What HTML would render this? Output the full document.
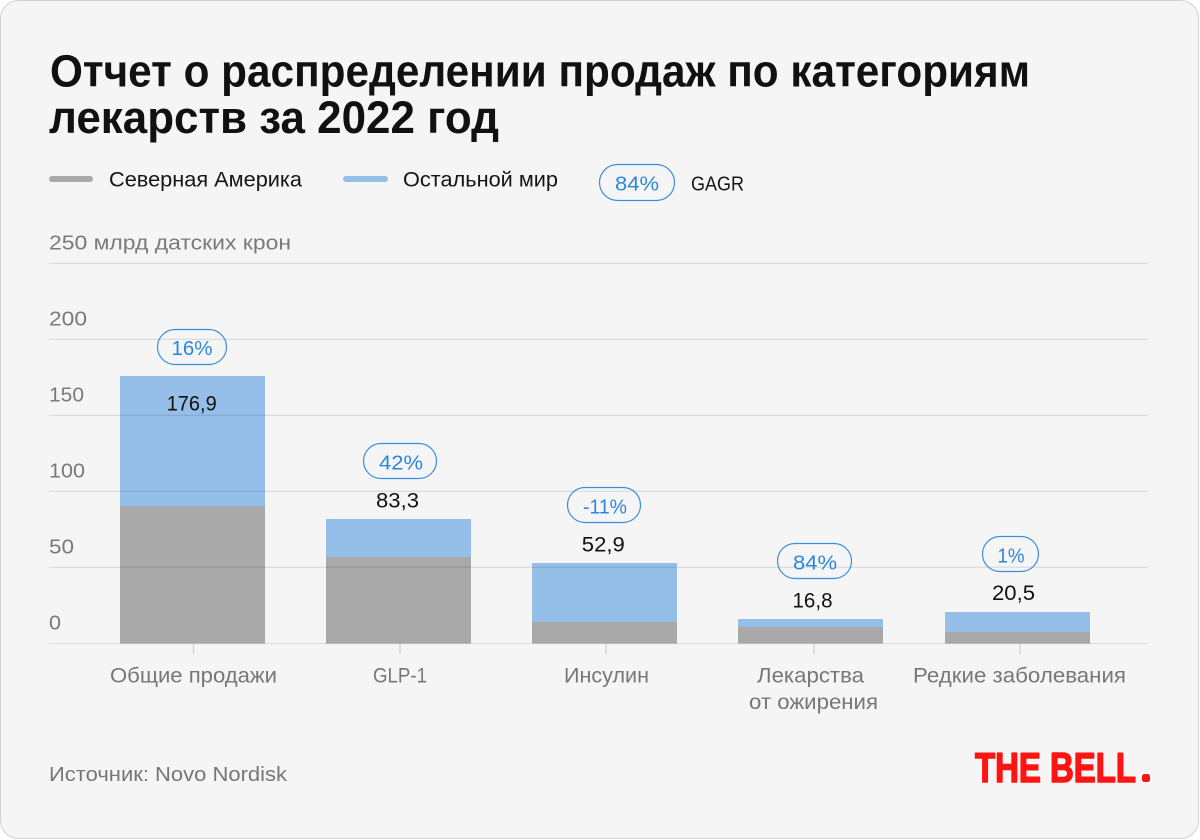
<!DOCTYPE html>
<html>
<head>
<meta charset="utf-8">
<style>
  html,body{margin:0;padding:0;background:#ffffff;}
  svg{display:block;}
  text{font-family:"Liberation Sans","DejaVu Sans",sans-serif;}
</style>
</head>
<body>
<svg width="1200" height="840" viewBox="0 0 1200 840" xmlns="http://www.w3.org/2000/svg">
  <!-- card -->
  <rect x="0.5" y="0.5" width="1198" height="838" rx="18" ry="18" fill="#f5f5f5" stroke="#d2d2d2" stroke-width="1"/>

  <!-- title -->
  <text x="50" y="86.5" font-size="45" font-weight="bold" fill="#111" textLength="980" lengthAdjust="spacingAndGlyphs">Отчет о распределении продаж по категориям</text>
  <text x="49" y="133" font-size="45" font-weight="bold" fill="#111" textLength="450" lengthAdjust="spacingAndGlyphs">лекарств за 2022 год</text>

  <!-- legend -->
  <line x1="52" y1="179" x2="90" y2="179" stroke="#a9a9a9" stroke-width="6" stroke-linecap="round"/>
  <text x="109" y="186.7" font-size="21" fill="#151515" textLength="193" lengthAdjust="spacingAndGlyphs">Северная Америка</text>
  <line x1="346" y1="179" x2="385" y2="179" stroke="#95bee9" stroke-width="6" stroke-linecap="round"/>
  <text x="403" y="186.7" font-size="21" fill="#151515" textLength="155" lengthAdjust="spacingAndGlyphs">Остальной мир</text>
  <rect x="599.5" y="164.5" width="75" height="36" rx="18" ry="18" fill="none" stroke="#3a8de0" stroke-width="1.2"/>
  <text x="637" y="190.3" font-size="20.5" fill="#2b86df" text-anchor="middle" textLength="44" lengthAdjust="spacingAndGlyphs">84%</text>
  <text x="691" y="190.7" font-size="20.5" fill="#151515" textLength="53" lengthAdjust="spacingAndGlyphs">GAGR</text>

  <!-- axis unit label -->
  <text x="49" y="249.3" font-size="20" fill="#7a7a7a" textLength="242" lengthAdjust="spacingAndGlyphs">250 млрд датских крон</text>

  <!-- bars -->
  <g>
    <rect x="120" y="376" width="145" height="130" fill="#95bee9"/>
    <rect x="120" y="506" width="145" height="137.5" fill="#a9a9a9"/>

    <rect x="326" y="519" width="145" height="38" fill="#95bee9"/>
    <rect x="326" y="557" width="145" height="86.5" fill="#a9a9a9"/>

    <rect x="532" y="563" width="145" height="59" fill="#95bee9"/>
    <rect x="532" y="622" width="145" height="21.5" fill="#a9a9a9"/>

    <rect x="738" y="619" width="145" height="8" fill="#95bee9"/>
    <rect x="738" y="627" width="145" height="16.5" fill="#a9a9a9"/>

    <rect x="945" y="612" width="145" height="20" fill="#95bee9"/>
    <rect x="945" y="632" width="145" height="11.5" fill="#a9a9a9"/>
  </g>

  <!-- gridlines -->
  <g stroke="#000" stroke-opacity="0.09" stroke-width="1.3">
    <line x1="49" y1="263.3" x2="1148" y2="263.3"/>
    <line x1="49" y1="339.3" x2="1148" y2="339.3"/>
    <line x1="49" y1="415.3" x2="1148" y2="415.3"/>
    <line x1="49" y1="491.3" x2="1148" y2="491.3"/>
    <line x1="49" y1="567.3" x2="1148" y2="567.3"/>
    <line x1="49" y1="643.5" x2="1148" y2="643.5"/>
  </g>
  <!-- ticks -->
  <g stroke="#cfcfcf" stroke-width="1.3">
    <line x1="193.5" y1="644" x2="193.5" y2="654"/>
    <line x1="400" y1="644" x2="400" y2="654"/>
    <line x1="606" y1="644" x2="606" y2="654"/>
    <line x1="814" y1="644" x2="814" y2="654"/>
    <line x1="1020" y1="644" x2="1020" y2="654"/>
  </g>

  <!-- y tick labels -->
  <g font-size="20.5" fill="#7a7a7a">
    <text x="49" y="325.7" textLength="38" lengthAdjust="spacingAndGlyphs">200</text>
    <text x="49" y="401.7" textLength="35" lengthAdjust="spacingAndGlyphs">150</text>
    <text x="49" y="477.7" textLength="36" lengthAdjust="spacingAndGlyphs">100</text>
    <text x="49" y="553.7" textLength="25" lengthAdjust="spacingAndGlyphs">50</text>
    <text x="49" y="629.7" textLength="12" lengthAdjust="spacingAndGlyphs">0</text>
  </g>

  <!-- value labels -->
  <g font-size="21" fill="#111" text-anchor="middle">
    <text x="191.7" y="410.7" textLength="50" lengthAdjust="spacingAndGlyphs">176,9</text>
    <text x="397.5" y="507.3" textLength="43" lengthAdjust="spacingAndGlyphs">83,3</text>
    <text x="603.3" y="551.3" textLength="43" lengthAdjust="spacingAndGlyphs">52,9</text>
    <text x="812.5" y="607.3" textLength="40" lengthAdjust="spacingAndGlyphs">16,8</text>
    <text x="1013.5" y="600" textLength="43" lengthAdjust="spacingAndGlyphs">20,5</text>
  </g>

  <!-- CAGR pills -->
  <g fill="none" stroke="#3a8de0" stroke-width="1.2">
    <rect x="157.5" y="329.5" width="69" height="35" rx="17.5" ry="17.5"/>
    <rect x="363.5" y="443.5" width="73" height="35" rx="17.5" ry="17.5"/>
    <rect x="567.5" y="487.5" width="73" height="35" rx="17.5" ry="17.5"/>
    <rect x="777.5" y="543.5" width="74" height="35" rx="17.5" ry="17.5"/>
    <rect x="982.5" y="536.5" width="56" height="35" rx="17.5" ry="17.5"/>
  </g>
  <g font-size="20.5" fill="#2b86df" text-anchor="middle">
    <text x="192" y="355" textLength="41" lengthAdjust="spacingAndGlyphs">16%</text>
    <text x="401" y="469.3" textLength="44" lengthAdjust="spacingAndGlyphs">42%</text>
    <text x="605" y="513.3" textLength="44" lengthAdjust="spacingAndGlyphs">-11%</text>
    <text x="815" y="569.3" textLength="44" lengthAdjust="spacingAndGlyphs">84%</text>
    <text x="1011" y="562.3" textLength="27" lengthAdjust="spacingAndGlyphs">1%</text>
  </g>

  <!-- category labels -->
  <g font-size="21" fill="#777" text-anchor="middle">
    <text x="193.5" y="682.3" textLength="167" lengthAdjust="spacingAndGlyphs">Общие продажи</text>
    <text x="400" y="682.3" textLength="54" lengthAdjust="spacingAndGlyphs">GLP-1</text>
    <text x="606.5" y="682.3" textLength="85" lengthAdjust="spacingAndGlyphs">Инсулин</text>
    <text x="810.5" y="682.3" textLength="107" lengthAdjust="spacingAndGlyphs">Лекарства</text>
    <text x="813.5" y="709" textLength="129" lengthAdjust="spacingAndGlyphs">от ожирения</text>
    <text x="1019.5" y="682.3" textLength="213" lengthAdjust="spacingAndGlyphs">Редкие заболевания</text>
  </g>

  <!-- source -->
  <text x="49" y="781" font-size="20" fill="#777" textLength="238" lengthAdjust="spacingAndGlyphs">Источник: Novo Nordisk</text>

  <!-- logo -->
  <text x="975" y="782" font-size="42" font-weight="bold" fill="#ff1414" stroke="#ff1414" stroke-width="1.6" stroke-linejoin="round" textLength="161" lengthAdjust="spacingAndGlyphs">THE BELL</text>
  <rect x="1142" y="774" width="8" height="8" rx="2.5" ry="2.5" fill="#ff1414"/>
</svg>
</body>
</html>
